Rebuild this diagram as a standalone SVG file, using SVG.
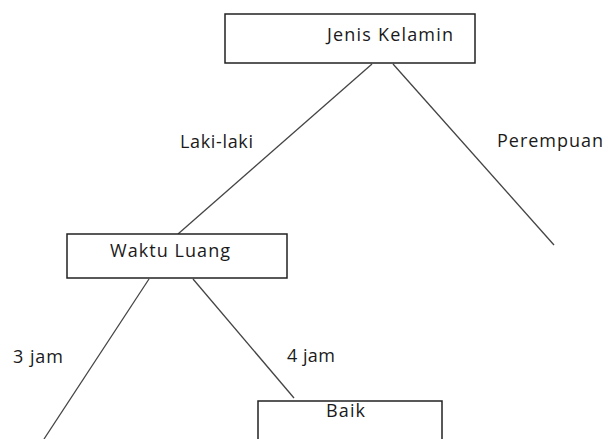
<svg xmlns="http://www.w3.org/2000/svg" width="608" height="439" viewBox="0 0 608 439">
<style>
.box{fill:#fff;stroke:#222;stroke-width:1.5}
.lbl{font-family:"Open Sans","Liberation Sans",sans-serif;font-size:18px;fill:#1a1a1a}
.ln{stroke:#444;stroke-width:1.3;fill:none}
</style>
<rect width="608" height="439" fill="#fff"/>
<g id="connectors">
<line class="ln" x1="372" y1="64" x2="178" y2="234"/>
<line class="ln" x1="393" y1="64" x2="554" y2="245"/>
<line class="ln" x1="149" y1="279" x2="44" y2="439"/>
<line class="ln" x1="193" y1="279" x2="294" y2="398"/>
<text class="lbl" x="180" y="148" textLength="73" lengthAdjust="spacing">Laki-laki</text>
<text class="lbl" x="497" y="147" textLength="106" lengthAdjust="spacing">Perempuan</text>
<text class="lbl" x="13" y="363" textLength="50" lengthAdjust="spacing">3 jam</text>
<text class="lbl" x="287" y="362" textLength="48" lengthAdjust="spacing">4 jam</text>
</g>
<g id="jenis-kelamin">
<rect class="box" x="225" y="14" width="250" height="49"/>
<text class="lbl" x="327" y="41" textLength="126" lengthAdjust="spacing">Jenis Kelamin</text>
</g>
<g id="waktu-luang">
<rect class="box" x="67" y="234" width="220" height="44"/>
<text class="lbl" x="110" y="257" textLength="120" lengthAdjust="spacing">Waktu Luang</text>
</g>
<g id="baik">
<rect class="box" x="258" y="401" width="184" height="50"/>
<text class="lbl" x="326" y="417" textLength="39" lengthAdjust="spacing">Baik</text>
</g>
</svg>
